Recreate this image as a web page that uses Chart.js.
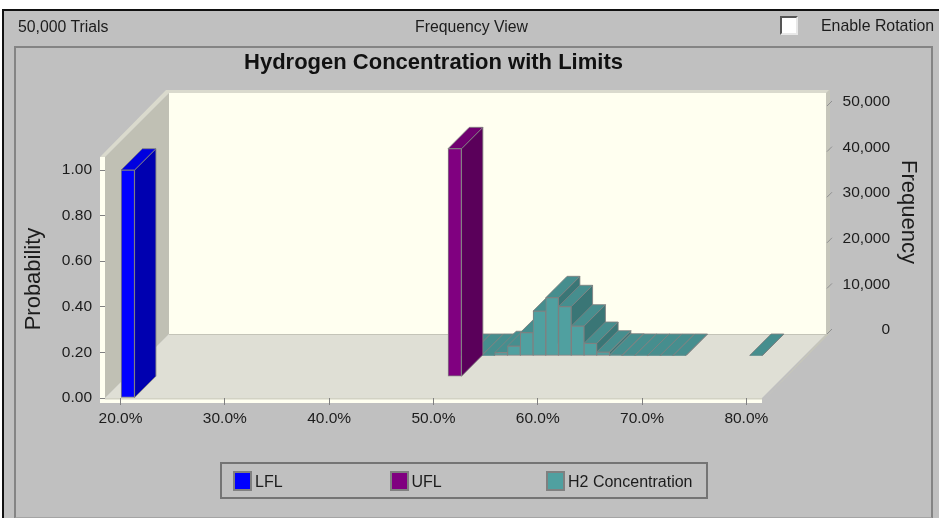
<!DOCTYPE html>
<html>
<head>
<meta charset="utf-8">
<title>Hydrogen Concentration with Limits</title>
<script src="https://cdn.jsdelivr.net/npm/chart.js@4"></script>
<style>
  html, body { margin: 0; padding: 0; background: #fff; overflow: hidden; }
  body { width: 939px; height: 518px; position: relative; font-family: "Liberation Sans", Arial, sans-serif; color: #1c1c1c; }
  #frame { position: absolute; left: 2px; top: 9px; right: 0; bottom: 0; background: #c0c0c0; border-top: 2px solid #111; border-left: 2px solid #111; }
  #panel { position: absolute; left: 14px; top: 46px; width: 915px; height: 469px; border: 2px solid #848484; border-bottom-color: #a4a4a4; }
  canvas { position: absolute; left: 0; top: 0; }
  .lbl { position: absolute; font-size: 15.5px; white-space: nowrap; line-height: 18px; }
  #check { position: absolute; left: 780px; top: 16px; width: 14px; height: 15px; background: #fff; border: 2px solid; border-color: #555 #e8e8e8 #e8e8e8 #555; }
  #legend { position: absolute; left: 220px; top: 462px; width: 484px; height: 33px; border: 2px solid #747474; }
  #legend .item { position: absolute; top: 7px; height: 20px; font-size: 16px; line-height: 21px; white-space: nowrap; }
  #legend .swatch { display: inline-block; width: 15px; height: 16px; border: 2px solid #808080; vertical-align: top; margin-right: 3px; }
</style>
</head>
<body>
<div id="frame"></div>
<div id="panel"></div>
<canvas id="myChart" width="939" height="518"></canvas>
<div class="lbl" style="left:18px;top:18px;font-size:15.8px">50,000 Trials</div>
<div class="lbl" style="left:415px;top:18px;font-size:15.8px">Frequency View</div>
<div id="check"></div>
<div class="lbl" style="left:821px;top:17px;font-size:15.9px">Enable Rotation</div>
<div id="legend"></div>

<script>
const lflX = [20.7];
const lflProbability = [1.0];
const uflX = [50.0];
const uflProbability = [1.0];
const h2Bins = [48.74, 49.96, 51.18, 52.40, 53.62, 54.85, 56.07, 57.29, 58.51, 59.74, 60.96, 62.18, 63.40, 64.63, 65.85, 67.07, 68.29, 69.52, 76.85];
const h2Frequency = [1, 2, 6, 600, 2040, 4980, 9700, 12650, 10680, 6430, 2630, 720, 60, 14, 5, 3, 2, 1, 1];
const frequencyTicks = [0, 10000, 20000, 30000, 40000, 50000];
const seriesNames = ["LFL", "UFL", "H2 Concentration"];
const frontColors = ["#0000ff", "#800080", "#50a0a0"];
const topColors = ["#0000e0", "#700070", "#468e8e"];
const sideColors = ["#0000b0", "#5a005a", "#3a7676"];

const DEPTH = 64;
const ROW = DEPTH / 3;
const EDGE = "rgba(128,128,128,0.85)";

function poly(ctx, pts, fill, stroke) {
  ctx.beginPath();
  pts.forEach((p, i) => i ? ctx.lineTo(p[0], p[1]) : ctx.moveTo(p[0], p[1]));
  ctx.closePath();
  ctx.fillStyle = fill;
  ctx.fill();
  if (stroke) {
    ctx.strokeStyle = stroke;
    ctx.lineWidth = 1;
    ctx.stroke();
  }
}

// walls and floor of the 3D box
const boxPlugin = {
  id: "box",
  beforeDraw(chart) {
    const { ctx, chartArea: a, scales } = chart;
    const { left: l, right: r, bottom: b } = a;
    const t = b - 241; // box is a bit taller than the chart area
    const d = DEPTH;
    ctx.save();
    poly(ctx, [[l + d, t - d], [r + d, t - d], [r + d, b - d], [l + d, b - d]], "#fffff0");
    poly(ctx, [[r + d, t - d - 3], [r + d + 4, t - d - 3], [r + d + 4, b - d - 1], [r + 1, b + 3], [r + d, b - d]], "#c6c6ba");
    poly(ctx, [[l, t], [l + d, t - d], [l + d, b - d], [l, b]], "#c0c0b4");
    poly(ctx, [[l, b], [l + d, b - d], [r + d, b - d], [r, b]], "#dfdfd5");
    // light edges
    poly(ctx, [[l - 5, t], [l + d - 3, t - d - 3], [r + d + 3, t - d - 3], [r + d, t - d], [l + d, t - d], [l, t]], "#dadacd");
    ctx.strokeStyle = "#c4c4b8";
    ctx.beginPath();
    ctx.moveTo(l + d, b - d + 0.5);
    ctx.lineTo(r + d, b - d + 0.5);
    ctx.stroke();
    // front rim
    poly(ctx, [[l - 5, t], [l, t], [l, b + 5], [l - 5, b + 5]], "#fffff0");
    poly(ctx, [[l - 5, b + 1], [r, b + 1], [r, b + 5], [l - 5, b + 5]], "#fffff0");
    poly(ctx, [[l, b], [r, b], [r, b + 1.5], [l, b + 1.5]], "#d2d2c4");
    // stubs on the back right edge
    ctx.strokeStyle = "#8f8f8f";
    ctx.beginPath();
    scales.yFreq.ticks.forEach(tk => {
      const y = scales.yFreq.getPixelForValue(tk.value) - d;
      ctx.moveTo(r + d + 1, y);
      ctx.lineTo(r + d + 6, y - 5);
    });
    ctx.stroke();
    ctx.restore();
  },
  // each series sits on its own row, extrusion first, the library paints the front
  beforeDatasetDraw(chart, args) {
    const { ctx } = chart;
    const off = ROW * args.index;
    ctx.save();
    ctx.translate(off, -off);
    args.meta.data.forEach(bar => {
      const x1 = bar.x - bar.width / 2, x2 = bar.x + bar.width / 2;
      const top = bar.y, base = bar.base;
      poly(ctx, [[x2, top], [x2 + ROW, top - ROW], [x2 + ROW, base - ROW], [x2, base]], sideColors[args.index], EDGE);
      poly(ctx, [[x1, top], [x1 + ROW, top - ROW], [x2 + ROW, top - ROW], [x2, top]], topColors[args.index], EDGE);
    });
  },
  afterDatasetDraw(chart) {
    chart.ctx.restore();
  }
};

const myChart = new Chart("myChart", {
  type: "bar",
  data: {
    datasets: [
      { label: seriesNames[0], data: lflX.map((x, i) => ({ x, y: lflProbability[i] })), yAxisID: "y", barThickness: 13.5, backgroundColor: frontColors[0] },
      { label: seriesNames[1], data: uflX.map((x, i) => ({ x, y: uflProbability[i] })), yAxisID: "y", barThickness: 13.5, backgroundColor: frontColors[1] },
      { label: seriesNames[2], data: h2Bins.map((x, i) => ({ x, y: h2Frequency[i] })), yAxisID: "yFreq", barThickness: 12.75, backgroundColor: frontColors[2] }
    ]
  },
  options: {
    responsive: false,
    animation: false,
    events: [],
    layout: { padding: { right: 49 } }, // right edge of the frequency labels
    datasets: { bar: { grouped: false, clip: false, borderWidth: 1, borderColor: "#808080", borderSkipped: false } },
    plugins: {
      legend: { display: false },
      tooltip: { enabled: false },
      title: {
        display: true,
        fullSize: false,
        text: "Hydrogen Concentration with Limits",
        color: "#111",
        font: { family: "Liberation Sans", size: 22, weight: "bold", lineHeight: 1.2 },
        padding: { top: 49.5, bottom: 84.1 }
      }
    },
    scales: {
      x: {
        type: "linear",
        offset: false,
        min: 18.51,
        max: 81.5,
        afterFit(s) { s.height = 120; },
        grid: { offset: false, drawOnChartArea: false, tickLength: 7, tickColor: "#808080" },
        border: { display: false },
        ticks: {
          stepSize: 10,
          includeBounds: false,
          autoSkip: false,
          maxRotation: 0,
          padding: 4,
          color: "#1c1c1c",
          font: { family: "Liberation Sans", size: 15.5 },
          callback: v => v.toFixed(1) + "%"
        }
      },
      y: {
        position: "left",
        min: 0,
        max: 1.0439,
        afterFit(s) { s.width = 105; },
        grid: { drawOnChartArea: false, tickLength: 5, tickColor: "#808080" },
        border: { display: false },
        title: { display: true, text: "Probability", color: "#1c1c1c", font: { family: "Liberation Sans", size: 22 }, padding: { top: 21, bottom: 0 } },
        ticks: {
          stepSize: 0.2,
          includeBounds: false,
          autoSkip: false,
          padding: 8,
          color: "#1c1c1c",
          font: { family: "Liberation Sans", size: 15.5 },
          callback: v => v.toFixed(2)
        }
      },
      yFreq: {
        position: "right",
        min: 0,
        max: 52193,
        afterFit(s) { s.width = 128; },
        afterBuildTicks(s) { s.ticks = frequencyTicks.map(value => ({ value })); },
        grid: { display: false, drawTicks: false, tickLength: 0 },
        border: { display: false },
        title: { display: true, align: "end", text: "Frequency", color: "#1c1c1c", font: { family: "Liberation Sans", size: 22 }, padding: { top: -31.2, bottom: 0 } },
        ticks: {
          includeBounds: false,
          autoSkip: false,
          padding: 79,
          labelOffset: -68,
          crossAlign: "far",
          color: "#1c1c1c",
          font: { family: "Liberation Sans", size: 15.5 },
          callback: v => v.toLocaleString("en-US")
        }
      }
    }
  },
  plugins: [boxPlugin]
});

// legend items are evenly spaced in the original, so it is built by hand
const legendEl = document.getElementById("legend");
myChart.data.datasets.forEach((ds, i) => {
  const item = document.createElement("div");
  item.className = "item";
  item.style.left = (11 + i * 156.5) + "px";
  const sw = document.createElement("span");
  sw.className = "swatch";
  sw.style.background = ds.backgroundColor;
  item.appendChild(sw);
  item.appendChild(document.createTextNode(ds.label));
  legendEl.appendChild(item);
});
</script>
</body>
</html>
